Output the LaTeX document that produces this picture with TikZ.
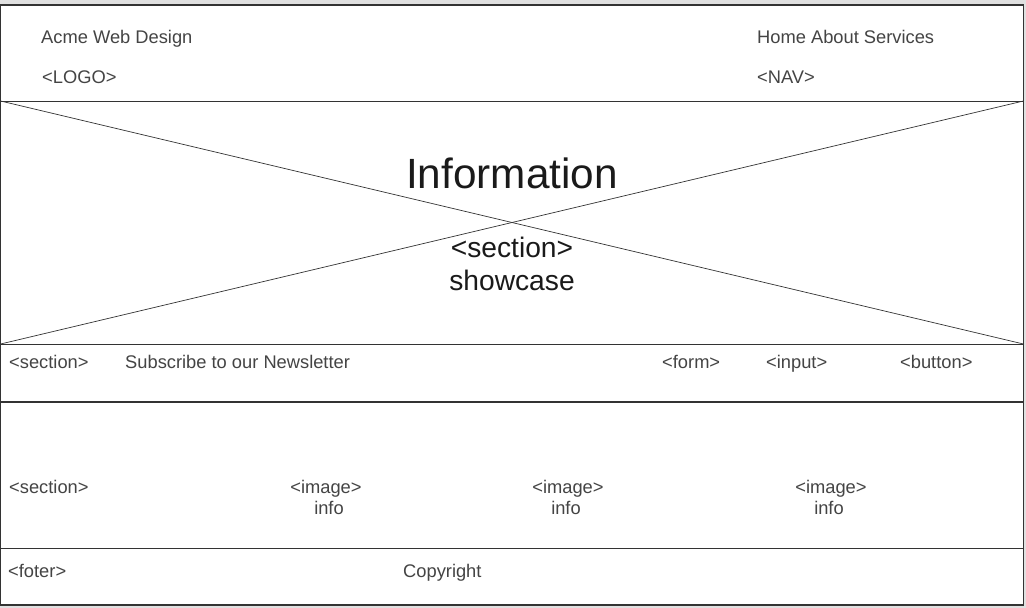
\documentclass[tikz,border=0pt]{standalone}
\usepackage{fontspec}
\setmainfont{Liberation Sans}
\definecolor{bggray}{HTML}{E0E0E0}
\definecolor{linegray}{HTML}{333333}
\definecolor{txtgray}{HTML}{444444}
\definecolor{bigtxt}{HTML}{1A1A1A}
\begin{document}
\begin{tikzpicture}[x=1pt,y=-1pt,
  lbl/.style={anchor=base west,inner sep=0pt,text=txtgray,font=\fontsize{18.3}{21}\selectfont},
  clbl/.style={anchor=base,inner sep=0pt,text=txtgray,font=\fontsize{18.3}{21}\selectfont},
  big/.style={anchor=base,inner sep=0pt,text=bigtxt,font=\fontsize{42.3}{48}\selectfont},
  mid/.style={anchor=base,inner sep=0pt,text=bigtxt,font=\fontsize{28.2}{32}\selectfont},
  frame/.style={draw=linegray,line width=1.2pt},
  sep/.style={draw=linegray,line width=1pt},
  cross/.style={draw=linegray,line width=0.7pt}]
\fill[bggray] (0,0) rectangle (1026,608);
\useasboundingbox (0,0) rectangle (1026,608);
\fill[white] (0.6,5) rectangle (1023.4,605);
% cross in showcase
\coordinate (tl) at (0.6,101);
\coordinate (tr) at (1023.4,101);
\coordinate (bl) at (0.6,344);
\coordinate (br) at (1023.4,344);
\draw[cross] (tl) -- (br);
\draw[cross] (bl) -- (tr);
% separators
\draw[sep] (0.6,101) -- (1023.4,101);
\draw[sep] (0.6,344) -- (1023.4,344);
\draw[draw=linegray,line width=1.8pt] (0.6,402) -- (1023.4,402);
\draw[sep] (0.6,548) -- (1023.4,548);
\draw[frame] (0.6,5) rectangle (1023.4,605);
% header
\node[lbl] (brand) at (41,43) {Acme Web Design};
\node[lbl] (logo) at (42,83.5) {<LOGO>};
\node[lbl] (menu) at (757,43) {Home About Services};
\node[lbl] (nav) at (757,83.5) {<NAV>};
% showcase
\node[big] (info) at (512,188.5) {Information};
\node[mid] (sect) at (512,257.5) {<section>};
\node[mid] (show) at (512,290.5) {showcase};
% newsletter
\node[lbl] (s1) at (9,368) {<section>};
\node[lbl] (sub) at (125,368) {Subscribe to our Newsletter};
\node[lbl] (form) at (662,368) {<form>};
\node[lbl] (input) at (766,368) {<input>};
\node[lbl] (button) at (900,368) {<button>};
% boxes section
\node[lbl] (s2) at (9,493.5) {<section>};
\node[clbl] (img1) at (326,493.5) {<image>};
\node[clbl] (inf1) at (329,514.5) {info};
\node[clbl] (img2) at (568,493.5) {<image>};
\node[clbl] (inf2) at (566,514.5) {info};
\node[clbl] (img3) at (831,493.5) {<image>};
\node[clbl] (inf3) at (829,514.5) {info};
% footer
\node[lbl] (foot) at (8,577) {<foter>};
\node[lbl] (copy) at (403,577) {Copyright};
\end{tikzpicture}
\end{document}
